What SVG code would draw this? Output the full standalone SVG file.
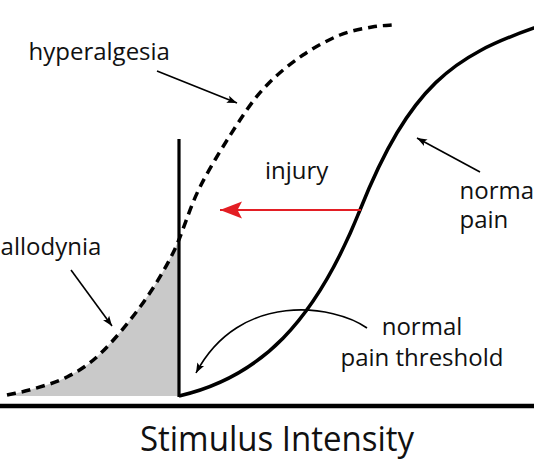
<svg xmlns="http://www.w3.org/2000/svg" width="534" height="462" viewBox="0 0 534 462">
<style>
.lbl{font-family:"Open Sans","Noto Sans","Liberation Sans",sans-serif;font-size:24px;fill:#111}
.axis-lbl{font-family:"Open Sans","Noto Sans","Liberation Sans",sans-serif;font-size:35.5px;fill:#111}
.curve{fill:none;stroke:#000;stroke-width:3.5}
.dash{fill:none;stroke:#000;stroke-width:3.5;stroke-dasharray:9 6}
.ptr{fill:none;stroke:#000;stroke-width:1.6}
</style>
<defs>
<marker id="ah" viewBox="0 -5 12 10" refX="10" refY="0" markerWidth="12" markerHeight="10" markerUnits="userSpaceOnUse" orient="auto">
<path d="M0,-3.8 L10,0 L0,3.8 L2.2,0 Z" fill="#000"/>
</marker>
<marker id="ahr" viewBox="0 -10 24 20" refX="22" refY="0" markerWidth="24" markerHeight="20" markerUnits="userSpaceOnUse" orient="auto">
<path d="M0,-8.5 L22,0 L0,8.5 L4.5,0 Z" fill="#e31e24"/>
</marker>
</defs>
<rect width="534" height="462" fill="#fff"/>
<g id="allodynia-area">
<path d="M7,396 C15.7,393 23,392 33,389 C43,386 55.8,382.8 67,377 C78.2,371.2 87.8,365.7 100,354 C112.2,342.3 127.8,323.8 140,307 C152.2,290.2 163,273 173,253 L179,239 L179,396 Z" fill="#c9c9c9"/>
</g>
<g id="axis">
<line x1="0" y1="406" x2="534" y2="406" stroke="#000" stroke-width="4.5"/>
</g>
<g id="threshold-line">
<line x1="179" y1="139" x2="179" y2="397" stroke="#000" stroke-width="3.2"/>
</g>
<g id="normal-curve">
<path class="curve" d="M179,396 C260,377.4 315,322.5 360,210 C410,85 454,56 534,28 L560,19"/>
</g>
<g id="hyperalgesia-curve">
<path class="dash" d="M7,395 C15.7,393 23,392 33,389 C43,386 55.8,382.8 67,377 C78.2,371.2 87.8,365.7 100,354 C112.2,342.3 127.8,323.8 140,307 C152.2,290.2 163,273 173,253 C183,233 188.8,209.2 200,187 C211.2,164.8 228.7,137.2 240,120 C251.3,102.8 257.5,94.8 268,84 C278.5,73.2 291,63.2 303,55 C315,46.8 328.5,39.7 340,35 C351.5,30.3 363.3,28.7 372,27 C380.7,25.3 385.3,25.7 393,25"/>
</g>
<g id="connectors">
<line class="ptr" x1="157" y1="71" x2="237" y2="103" marker-end="url(#ah)"/>
<line class="ptr" x1="480" y1="172" x2="417" y2="138" marker-end="url(#ah)"/>
<line class="ptr" x1="71" y1="270" x2="112" y2="326" marker-end="url(#ah)"/>
<path class="ptr" d="M367,328 C335,305 240,290 196,373" marker-end="url(#ah)"/>
<line x1="361" y1="210" x2="220" y2="210" stroke="#e31e24" stroke-width="2.2" marker-end="url(#ahr)"/>
</g>
<g id="label-hyperalgesia"><text class="lbl" x="28.5" y="59.5">hyperalgesia</text></g>
<g id="label-injury"><text class="lbl" x="265" y="179">injury</text></g>
<g id="label-normal-pain"><text class="lbl" x="459.5" y="199">normal</text><text class="lbl" x="459.5" y="228">pain</text></g>
<g id="label-allodynia"><text class="lbl" x="0.6" y="255">allodynia</text></g>
<g id="label-threshold"><text class="lbl" x="422" y="335" text-anchor="middle">normal</text><text class="lbl" x="422" y="366" text-anchor="middle">pain threshold</text></g>
<g id="label-axis"><text class="axis-lbl" transform="translate(277,451) scale(0.93,1)" x="0" y="0" text-anchor="middle">Stimulus Intensity</text></g>
</svg>
